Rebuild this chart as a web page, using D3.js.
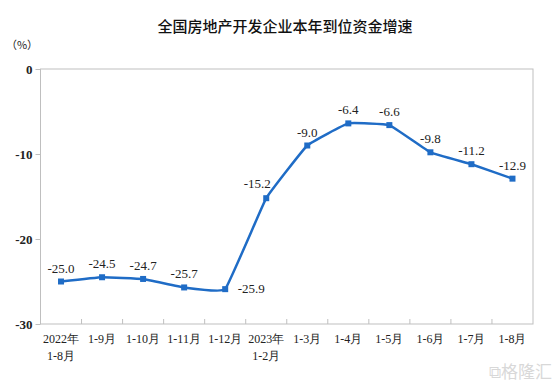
<!DOCTYPE html>
<html><head><meta charset="utf-8">
<script src="https://cdn.jsdelivr.net/npm/d3@7"></script>
<style>body{margin:0;background:#fff}</style>
</head><body>
<script>
const categories = [["2022年","1-8月"],["1-9月"],["1-10月"],["1-11月"],["1-12月"],["2023年","1-2月"],["1-3月"],["1-4月"],["1-5月"],["1-6月"],["1-7月"],["1-8月"]];
const values = [-25.0,-24.5,-24.7,-25.7,-25.9,-15.2,-9.0,-6.4,-6.6,-9.8,-11.2,-12.9];
const yTicks = [0,-10,-20,-30];
const title = "全国房地产开发企业本年到位资金增速";

const W=554,H=384;
const m={l:40.5,r:21,t:69,b:60};
const svg=d3.select("body").append("svg").attr("width",W).attr("height",H);
const x=d3.scaleBand().domain(d3.range(categories.length)).range([m.l,W-m.r]);
const y=d3.scaleLinear().domain([-30,0]).range([H-m.b,m.t]);
const serif="'Liberation Serif','Times New Roman',serif";
const gray="#bfbfbf";

svg.append("text").attr("x",285).attr("y",32).attr("text-anchor","middle")
 .attr("font-family","'Noto Sans CJK SC',sans-serif").attr("font-size",15).attr("font-weight",500).attr("fill","#111").text(title);
svg.append("text").attr("x",22).attr("y",49).attr("text-anchor","middle")
 .attr("font-family","'Noto Sans CJK SC',sans-serif").attr("font-size",11).attr("fill","#222").text("（%）");

svg.append("rect").attr("x",m.l).attr("y",m.t).attr("width",W-m.r-m.l).attr("height",H-m.b-m.t)
 .attr("fill","none").attr("stroke",gray).attr("stroke-width",1);

const ya=svg.append("g").attr("transform",`translate(${m.l},0)`)
 .call(d3.axisLeft(y).tickValues(yTicks).tickSize(5).tickPadding(3).tickFormat(d=>String(d)));
ya.select(".domain").remove();
ya.selectAll("line").attr("stroke",gray);
ya.selectAll("text").attr("font-family",serif).attr("font-size",13).attr("font-weight","bold").attr("fill","#222");

const bounds=d3.range(1,categories.length).map(i=>x(i));
svg.selectAll(".xt").data(bounds).enter().append("line")
 .attr("x1",d=>d).attr("x2",d=>d).attr("y1",H-m.b).attr("y2",H-m.b-5).attr("stroke",gray);
const xl=svg.selectAll(".xl").data(categories).enter().append("text")
 .attr("text-anchor","middle").attr("font-family",serif).attr("font-size",12).attr("fill","#222");
xl.each(function(d,i){
  const t=d3.select(this);
  d.forEach((s,j)=>t.append("tspan").attr("x",x(i)+x.bandwidth()/2).attr("y",H-m.b+19+j*17).text(s));
});

const cx=i=>x(i)+x.bandwidth()/2;
const line=d3.line().x((d,i)=>cx(i)).y(d=>y(d)).curve(d3.curveCardinal.tension(0.75));
svg.append("path").datum(values).attr("d",line).attr("fill","none").attr("stroke","#1f6cc6").attr("stroke-width",2.5);
svg.selectAll(".pt").data(values).enter().append("rect")
 .attr("x",(d,i)=>cx(i)-3).attr("y",d=>y(d)-3).attr("width",6).attr("height",6).attr("fill","#1f6cc6");

const off=values.map((d,i)=>i===4?[26,4]:(i===5?[-9,-10]:[0,-9]));
svg.selectAll(".lb").data(values).enter().append("text")
 .attr("x",(d,i)=>cx(i)+off[i][0]).attr("y",(d,i)=>y(d)+off[i][1])
 .attr("text-anchor","middle").attr("font-family",serif).attr("font-size",13).attr("fill","#222")
 .text(d=>d.toFixed(1));

svg.append("text").attr("x",552).attr("y",378).attr("text-anchor","end")
 .attr("font-family","'Noto Sans CJK SC',sans-serif").attr("font-size",17).attr("fill","#d8d8d8").text("⧉格隆汇");
</script>
</body></html>
